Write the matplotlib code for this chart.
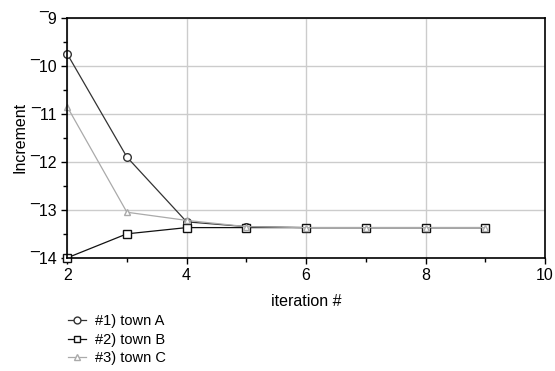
import matplotlib
matplotlib.use("Agg")
import matplotlib.pyplot as plt
from matplotlib.ticker import FuncFormatter, MultipleLocator

plt.rcParams["font.family"] = ["Liberation Sans", "DejaVu Sans"]

iterations = [2, 3, 4, 5, 6, 7, 8, 9]
town_a = [-9.75, -11.9, -13.25, -13.35, -13.37, -13.37, -13.37, -13.37]
town_b = [-14.0, -13.5, -13.37, -13.37, -13.37, -13.37, -13.37, -13.37]
town_c = [-10.85, -13.05, -13.22, -13.35, -13.37, -13.37, -13.37, -13.37]
labels = ["#1) town A", "#2) town B", "#3) town C"]

fig = plt.figure(figsize=(5.55, 3.71), dpi=100)
ax = fig.add_axes([0.121, 0.305, 0.861, 0.647])

ax.plot(iterations, town_a, color="#333333", lw=0.9, marker="o", ms=5.5,
        mfc="white", mec="#333333", label=labels[0], clip_on=False)
ax.plot(iterations, town_b, color="#111111", lw=0.9, marker="s", ms=5.5,
        mfc="white", mec="#111111", label=labels[1], clip_on=False)
ax.plot(iterations, town_c, color="#aaaaaa", lw=0.9, marker="^", ms=5,
        mfc="white", mec="#aaaaaa", label=labels[2], clip_on=False)

ax.set_xlim(2, 10)
ax.set_ylim(-14, -9)
ax.xaxis.set_major_locator(MultipleLocator(2))
ax.xaxis.set_minor_locator(MultipleLocator(1))
ax.yaxis.set_major_locator(MultipleLocator(1))
ax.yaxis.set_minor_locator(MultipleLocator(0.5))
ax.yaxis.set_major_formatter(FuncFormatter(
    lambda v, p: ("\u00af" + str(int(abs(v)))) if v < 0 else str(int(v))))
ax.tick_params(which="both", direction="out", labelsize=11.5, width=1)
ax.tick_params(which="major", length=4)
ax.tick_params(which="minor", length=3)
ax.grid(True, which="major", color="#cccccc", lw=1)
ax.set_axisbelow(True)
for s in ax.spines.values():
    s.set_linewidth(1.2)

ax.set_xlabel("iteration #", fontsize=11.5, labelpad=8)
ax.set_ylabel("Increment", fontsize=11.5, labelpad=2)

fig.legend(loc="upper left", bbox_to_anchor=(0.11, 0.172), frameon=False,
           fontsize=10.5, handlelength=1.2, labelspacing=0.3, handletextpad=0.6,
           borderpad=0, markerscale=0.9)

fig.savefig("out.png", dpi=100)
